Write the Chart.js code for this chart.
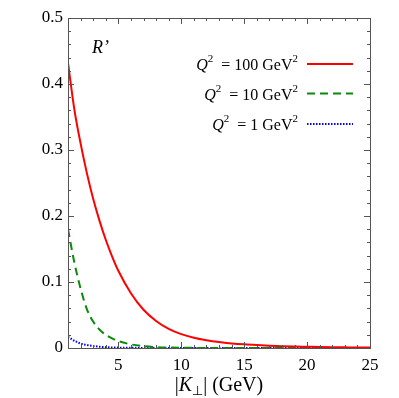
<!DOCTYPE html>
<html>
<head>
<meta charset="utf-8">
<script src="https://cdn.jsdelivr.net/npm/chart.js@4/dist/chart.umd.min.js"></script>
<style>
  body { margin: 0; background: #fff; }
  #wrap { width: 399px; height: 398px; }
</style>
</head>
<body>
<div id="wrap"><canvas id="chart"></canvas></div>
<script>
// |K_perp| in GeV
const kPerp = [1, 1.5, 2, 2.5, 3, 3.5, 4, 4.5, 5, 6, 7, 8, 9, 10, 11, 12, 13, 14, 15, 16, 17, 18, 19, 20, 21, 22, 23, 24, 25];

// R' for each Q^2
const rQ100 = [0.432, 0.362, 0.31, 0.265, 0.226, 0.193, 0.164, 0.139, 0.117, 0.083, 0.058, 0.041, 0.029, 0.021, 0.0155, 0.0118, 0.009, 0.007, 0.0055, 0.0044, 0.0035, 0.0028, 0.0023, 0.0019, 0.0015, 0.0012, 0.001, 0.0008, 0.0007];
const rQ10 = [0.18, 0.13, 0.09, 0.059, 0.04, 0.028, 0.02, 0.0145, 0.0105, 0.0055, 0.0028, 0.0014, 0.0007, 0.00035, 0.0002, 0.0001, 0, 0, 0, 0, 0, 0, 0, 0, 0, 0, 0, 0, 0];
const rQ1 = [0.017, 0.011, 0.0068, 0.0045, 0.003, 0.002, 0.0013, 0.0009, 0.0006, 0.0003, 0.00015, 0.0001, 0.00005, 0, 0, 0, 0, 0, 0, 0, 0, 0, 0, 0, 0, 0, 0, 0, 0];

const legendLabels = ['100', '10', '1'];

const SERIF = '"Liberation Serif", "Times New Roman", serif';

const series = [
    { values: rQ100, color: '#ff0000', dash: [] },
    { values: rQ10, color: '#0a8a0a', dash: [8, 5] },
    { values: rQ1, color: '#0000ff', dash: [1.5, 1.5] }
];

// ticks pointing inward on all four sides, plus frame and extra labels
const framePlugin = {
    id: 'frame',
    afterDatasetsDraw(chart) {
        const ctx = chart.ctx;
        const a = chart.chartArea;
        const xs = chart.scales.x;
        const ys = chart.scales.y;
        ctx.save();
        ctx.strokeStyle = '#555';
        ctx.lineWidth = 1;

        xs.ticks.forEach(t => {
            const px = Math.round(xs.getPixelForValue(t.value)) + 0.5;
            const len = t.value % 5 === 0 ? 6 : 3;
            ctx.beginPath();
            ctx.moveTo(px, a.bottom); ctx.lineTo(px, a.bottom - len);
            ctx.moveTo(px, a.top); ctx.lineTo(px, a.top + len);
            ctx.stroke();
        });
        ys.ticks.forEach(t => {
            const py = Math.round(ys.getPixelForValue(t.value)) + 0.5;
            const major = Math.abs(t.value * 10 - Math.round(t.value * 10)) < 1e-6;
            const len = major ? 6 : 3;
            ctx.beginPath();
            ctx.moveTo(a.left, py); ctx.lineTo(a.left + len, py);
            ctx.moveTo(a.right, py); ctx.lineTo(a.right - len, py);
            ctx.stroke();
        });
        ctx.strokeRect(Math.round(a.left) + 0.5, Math.round(a.top) + 0.5,
            Math.round(a.right - a.left), Math.round(a.bottom - a.top));

        ctx.fillStyle = '#000';
        ctx.textBaseline = 'alphabetic';

        // R' label
        ctx.font = 'italic 18px ' + SERIF;
        ctx.textAlign = 'left';
        ctx.fillText('R\u2019', 92, 53);

        // legend: text right aligned, line sample to the right
        const rows = [64, 93.5, 124];
        series.forEach((s, i) => {
            const y = rows[i];
            const parts = [
                { t: 'Q', f: 'italic 16px ' + SERIF, dy: 0 },
                { t: '2', f: '11px ' + SERIF, dy: -8 },
                { t: '  = ' + legendLabels[i] + ' GeV', f: '16px ' + SERIF, dy: 0 },
                { t: '2', f: '11px ' + SERIF, dy: -8 }
            ];
            let total = 0;
            parts.forEach(p => { ctx.font = p.f; p.w = ctx.measureText(p.t).width; total += p.w; });
            let x = 298 - total;
            parts.forEach(p => { ctx.font = p.f; ctx.fillText(p.t, x, y + 6 + p.dy); x += p.w; });

            ctx.strokeStyle = s.color;
            ctx.lineWidth = 2;
            ctx.setLineDash(s.dash);
            ctx.beginPath();
            ctx.moveTo(307, y); ctx.lineTo(353, y);
            ctx.stroke();
            ctx.setLineDash([]);
        });

        // x axis title |K_perp| (GeV)
        const tparts = [
            { t: '|', f: '20px ' + SERIF, dy: 0 },
            { t: 'K', f: 'italic 20px ' + SERIF, dy: 0 },
            { t: '\u22a5', f: '13px ' + SERIF, dy: 4 },
            { t: '| (GeV)', f: '20px ' + SERIF, dy: 0 }
        ];
        let tw = 0;
        tparts.forEach(p => { ctx.font = p.f; p.w = ctx.measureText(p.t).width; tw += p.w; });
        let tx = (a.left + a.right) / 2 - tw / 2;
        tparts.forEach(p => { ctx.font = p.f; ctx.fillText(p.t, tx, 391 + p.dy); tx += p.w; });

        ctx.restore();
    }
};

const ctx = document.getElementById('chart').getContext('2d');
const chart = new Chart(ctx, {
    type: 'line',
    data: {
        datasets: series.map(s => ({
            data: kPerp.map((k, i) => ({ x: k, y: s.values[i] })),
            borderColor: s.color,
            borderWidth: 2,
            borderDash: s.dash,
            pointRadius: 0,
            fill: false,
            cubicInterpolationMode: 'monotone'
        }))
    },
    options: {
        responsive: true,
        maintainAspectRatio: false,
        animation: false,
        layout: { padding: { top: 18, right: 29, left: 0, bottom: 0 } },
        plugins: { legend: { display: false }, tooltip: { enabled: false } },
        scales: {
            x: {
                type: 'linear',
                min: 1,
                max: 25,
                grid: { display: false, tickLength: 0 },
                border: { display: false },
                afterFit: s => { s.height = 50; },
                ticks: {
                    stepSize: 1,
                    autoSkip: false,
                    maxRotation: 0,
                    padding: 7,
                    color: '#000',
                    font: { family: SERIF, size: 17 },
                    callback: v => (v % 5 === 0 ? String(v) : '')
                }
            },
            y: {
                min: 0,
                max: 0.5,
                grid: { display: false, tickLength: 0 },
                border: { display: false },
                afterFit: s => { s.width = 68; },
                ticks: {
                    stepSize: 0.02,
                    autoSkip: false,
                    padding: 5,
                    color: '#000',
                    font: { family: SERIF, size: 17 },
                    callback: v => {
                        if (Math.abs(v * 10 - Math.round(v * 10)) > 1e-6) return '';
                        return v === 0 ? '0' : v.toFixed(1);
                    }
                }
            }
        }
    },
    plugins: [framePlugin]
});
</script>
</body>
</html>
